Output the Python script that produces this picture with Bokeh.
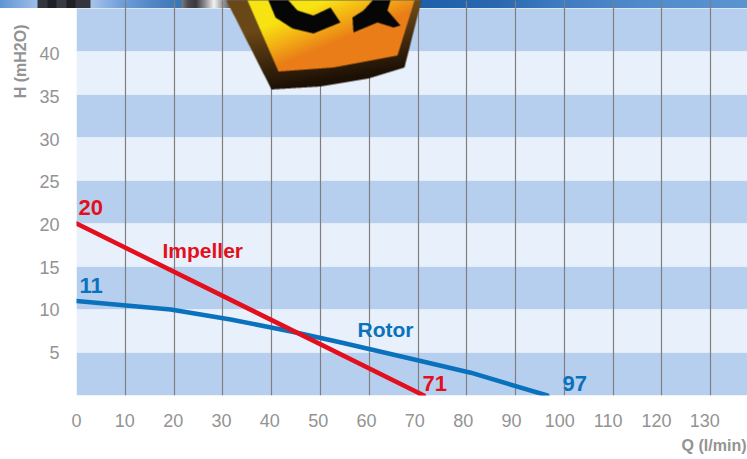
import numpy as np
from bokeh.core.properties import value
from bokeh.plotting import figure
from bokeh.embed import file_html
from bokeh.resources import INLINE
from bokeh.models import (FixedTicker, Grid, LinearAxis, Range1d, Title)

# ---- data ----
x_ticks = [0, 10, 20, 30, 40, 50, 60, 70, 80, 90, 100, 110, 120, 130]
y_ticks = [5, 10, 15, 20, 25, 30, 35, 40]
band_low = [0, 10, 20, 30, 40]
band_high = [5, 15, 25, 35, 45]
light_low = [5, 15, 25, 35]
light_high = [10, 20, 30, 40]
impeller_q = [0, 71.2]
impeller_h = [20, 0]
rotor_q = [0, 19.3, 31.6, 44, 54, 69.9, 80.8, 96.5]
rotor_h = [11, 10, 8.84, 7.45, 6.2, 4.1, 2.65, 0]

# ---- decoration: photo strip along the top, gradient stops (px, colour) ----
strip_stops = [
    (0, "#5e94d0"), (15, "#7aa6dc"), (37, "#9dbde8"),
    (38, "#34363d"), (47, "#34363d"), (48, "#1f2126"), (56, "#1f2126"), (57, "#3a3c43"), (66, "#3a3c43"),
    (67, "#1f2126"), (75, "#1f2126"), (76, "#34363d"), (90, "#34363d"),
    (91, "#a6c4ea"), (120, "#73a0da"), (150, "#5288c6"), (181, "#3a75b5"),
    (182, "#77787a"), (188, "#4a4a4e"), (196, "#3a3a3e"), (205, "#8f8f92"), (214, "#f2f2f2"), (222, "#a0a0a2"), (230, "#606062"),
    (419, "#606062"), (420, "#1d5fa9"), (500, "#2a69b0"), (560, "#3f7bc0"), (640, "#4f8acb"), (747, "#5a94d0"),
]
badge_outer = [(226, 0), (271, 89), (320, 86), (368, 78), (404, 67), (421, 0)]
badge_inner = [(247, 0), (278, 71), (333, 67), (397, 55), (414, 0)]
badge_letters = [
    [(268, 0), (275, 17), (292, 28), (313, 33), (340, 22), (330, 7), (313, 15), (297, 10), (288, 0)],
    [(352, 17), (353, 32), (377, 22), (393, 27), (400, 25), (387, 10), (390, 0), (372, 0), (363, 10)],
]

LEFT, BOTTOM, W, H = 76, 395, 747, 459
PXX = 4.879
PXY = 8.6
fx = lambda px: (px - LEFT) / PXX
fy = lambda py: (BOTTOM - py) / PXY

p = figure(width=W, height=H, output_backend="svg", toolbar_location=None,
           x_range=Range1d(0, (W - LEFT) / PXX), y_range=Range1d(0, BOTTOM / PXY),
           x_axis_location=None, y_axis_location=None,
           min_border_left=LEFT, min_border_right=0, min_border_top=0, min_border_bottom=H - BOTTOM,
           background_fill_color=None, border_fill_color=None, outline_line_color=None)
p.xgrid.visible = False
p.ygrid.visible = False
gradient = ", ".join(f"{c} {x}px" for x, c in strip_stops)
p.styles = {"background": f"linear-gradient(to right, {gradient}) 0 0 / 100% 8px no-repeat, #ffffff"}

p.extra_x_ranges["labels"] = Range1d(0, (W - 76.5) / 4.83)
p.extra_y_ranges["labels"] = Range1d(-0.04, 395 / 8.54)

FONT = "Liberation Sans"
GREY = "#939393"
for ax, side in [(LinearAxis(x_range_name="labels", ticker=FixedTicker(ticks=x_ticks), major_label_standoff=12), "below"),
                 (LinearAxis(y_range_name="labels", ticker=FixedTicker(ticks=y_ticks), major_label_standoff=11), "left")]:
    ax.axis_line_color = None
    ax.major_tick_line_color = None
    ax.minor_tick_line_color = None
    ax.major_label_text_font = FONT
    ax.major_label_text_font_size = "18px"
    ax.major_label_text_color = GREY
    p.add_layout(ax, side)

p.add_layout(Title(text="Q (l/min)", align="right", offset=1, text_color=GREY, text_font=FONT,
                   text_font_style="bold", text_font_size="16px", standoff=11), "below")
p.add_layout(Title(text="H (mH2O)", align="right", offset=24, text_color=GREY, text_font=FONT,
                   text_font_style="bold", text_font_size="16px", standoff=16), "left")

p.quad(left=0, right=(W - LEFT) / PXX, bottom=band_low, top=band_high, fill_color="#b7cfee", line_color=None, level="image")
p.quad(left=0, right=(W - LEFT) / PXX, bottom=light_low, top=light_high, fill_color="#e8f0fb", line_color=None, level="image")

p.add_layout(Grid(dimension=0, ticker=FixedTicker(ticks=x_ticks[1:]), bounds=(0, 45), grid_line_color="#7f7f7f", grid_line_width=1.2))

RED = "#e30f1c"
BLUE = "#0a72bd"
p.line(rotor_q, rotor_h, line_color=BLUE, line_width=4.5, line_cap="round", line_join="round")
p.line(impeller_q, impeller_h, line_color=RED, line_width=4.5, line_cap="round", line_join="round")


def rgb(c):
    return np.array([int(c[i:i + 2], 16) for i in (1, 3, 5)], dtype=float)


def inside(px, py, pts):
    res = np.zeros(px.shape, dtype=bool)
    n = len(pts)
    for i in range(n):
        x1, y1 = pts[i]
        x2, y2 = pts[(i + 1) % n]
        if y1 == y2:
            continue
        cross = (y1 > py) != (y2 > py)
        xc = x1 + (py - y1) * (x2 - x1) / (y2 - y1)
        res ^= cross & (px < xc)
    return res


# badge: raster with gradient, drawn through image_rgba (decoration only)
X0, Y0, BW, BH = 224, 0, 200, 92
SS = 3
gx, gy = np.meshgrid(X0 + (np.arange(BW * SS) + 0.5) / SS, Y0 + (np.arange(BH * SS) + 0.5) / SS)
img = np.zeros((BH * SS, BW * SS, 4))
mo = inside(gx, gy, badge_outer)
shade = np.clip((gy - 20) / 60 + (gx - 330) / 400, 0, 1)[..., None]
outer_col = (1 - shade) * rgb("#6a4716") + shade * rgb("#1c1005")
img[mo, :3] = outer_col[mo]
img[mo, 3] = 255
mi = inside(gx, gy, badge_inner)
t = np.clip((gx - 255) / 110 + (gy - 30) / 45, 0, 1)[..., None]
inner_col = np.where(t < 0.5, (1 - 2 * t) * rgb("#f8e312") + 2 * t * rgb("#f4b015"),
                     (2 - 2 * t) * rgb("#f4b015") + (2 * t - 1) * rgb("#ea7d18"))
img[mi, :3] = inner_col[mi]
img[mi, 3] = 255
for pts in badge_letters:
    ml = inside(gx, gy, pts)
    img[ml, :3] = 6
    img[ml, 3] = 255
small = img.reshape(BH, SS, BW, SS, 4).mean(axis=(1, 3))
rgba = np.clip(small, 0, 255).astype(np.uint8)[::-1].copy()
cover = img[..., 3].reshape(BH, SS, BW, SS).mean(axis=(1, 3))[::-1]
for i in range(3):
    rgba[..., i] = np.clip(rgba[..., i] * 255.0 / np.maximum(cover, 1), 0, 255).astype(np.uint8)
buf = np.frombuffer(rgba.tobytes(), dtype=np.uint32).reshape(BH, BW)
p.image_rgba(image=[buf], x=fx(X0), y=fy(Y0 + BH), dw=BW / PXX, dh=BH / PXY, level="overlay")


def note(text, px, py, color, size):
    p.text([fx(px)], [fy(py)], text=[text], text_color=color, text_font=value(FONT), text_font_style="bold",
           text_font_size=size, text_baseline="middle", text_align="left")


# y = vertical centre of each text in picture pixels
note("20", 78, 207, RED, "22px")
note("11", 79, 285, BLUE, "22px")
note("71", 422, 383, RED, "22px")
note("97", 562, 383, BLUE, "22px")
note("Impeller", 162, 250, RED, "21px")
note("Rotor", 357, 329, BLUE, "21px")

open("out.html", "w").write(file_html(p, INLINE))
